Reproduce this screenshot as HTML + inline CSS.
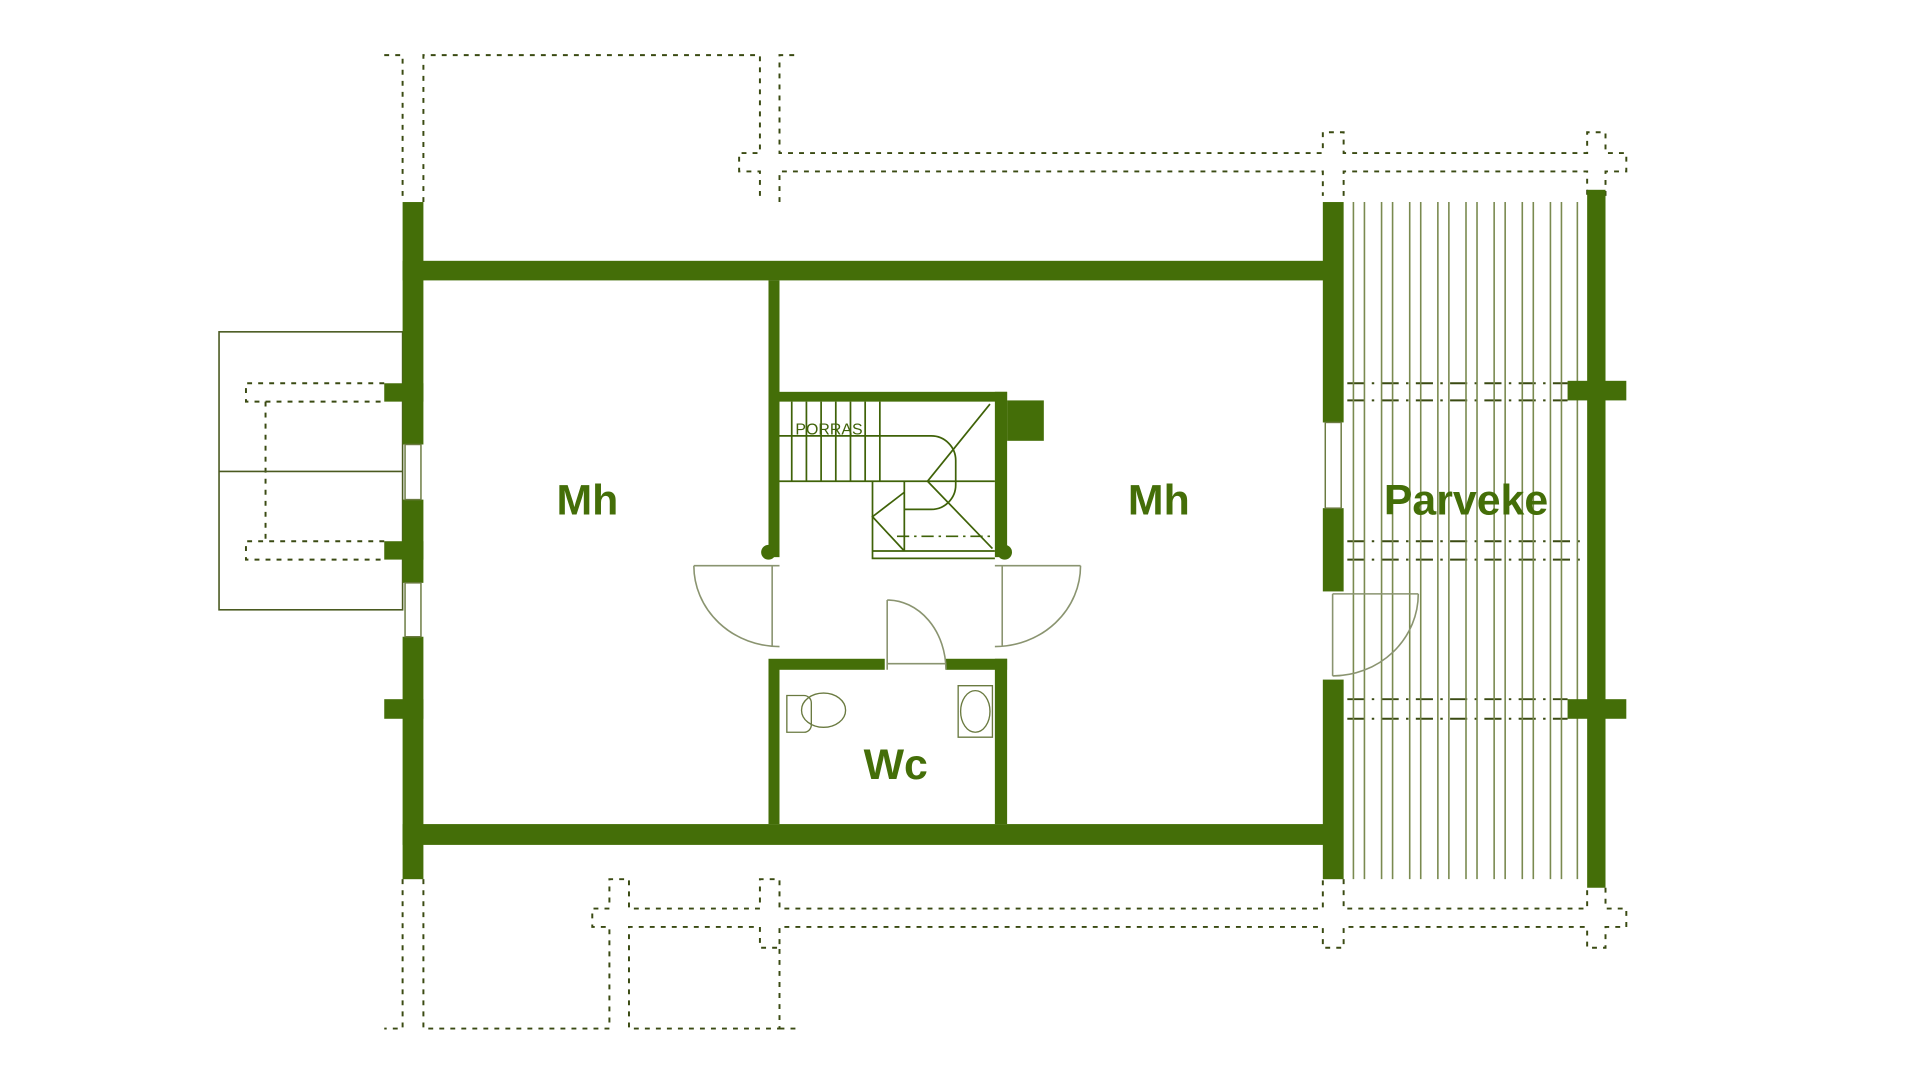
<!DOCTYPE html>
<html><head><meta charset="utf-8"><style>
html,body{margin:0;padding:0;background:#fff;width:1920px;height:1080px;overflow:hidden}
svg{display:block}
</style></head><body>
<svg width="1920" height="1080" viewBox="-1 0 1569 882" preserveAspectRatio="none" xmlns="http://www.w3.org/2000/svg">
<rect x="-10" width="1600" height="900" fill="#fff"/>
<g fill="none" stroke="#3a4a12" stroke-width="1.6" stroke-dasharray="4 5">
 <path d="M313 45 H328 V165 M345 165 V45 H620 V125 H603 V140 H620 V165 M636 165 V140 H1080 V160 M1097 160 V140 H1296 V160 M1311 160 V140 H1328 V125 H1311 V108 H1296 V125 H1097 V108 H1080 V125 H636 V45 H652"/>
 <path d="M328 718 V840 H313 M345 718 V840 H497 V757 H483 V742 H497 V718 H513 V742 H620 V718 H636 V742 H1080 V718 M1097 718 V742 H1296 V725 M1311 725 V742 H1328 V757 H1311 V774 H1296 V757 H1097 V774 H1080 V757 H636 V774 H620 V757 H513 V840 H636 V774 M636 840 H652"/>
 <path d="M313 313 H200 V328 H313 M313 442 H200 V457 H313 M216 328 V442"/>
 <path d="M1100 313 H1280 M1100 327 H1280 M1100 442 H1296 M1100 457 H1296 M1100 571 H1280 M1100 587 H1280" stroke-dasharray="14 6 2 6"/>
</g>
<g stroke="#7a8a50" stroke-width="1.3">
<path d="M1105 165V718 M1114 165V718 M1128 165V718 M1137 165V718 M1151 165V718 M1160 165V718 M1174 165V718 M1183 165V718 M1197 165V718 M1206 165V718 M1220 165V718 M1229 165V718 M1243 165V718 M1252 165V718 M1266 165V718 M1275 165V718 M1288 165V718"/>
</g>
<g fill="none" stroke="#4a5a20" stroke-width="1.3">
<rect x="178" y="271" width="150" height="227"/>
<path d="M178 385 H328"/>
</g>
<g fill="#446e08">
<rect x="328" y="165" width="17" height="198"/>
<rect x="328" y="408" width="17" height="68"/>
<rect x="328" y="520" width="17" height="198"/>
<rect x="328" y="213" width="762" height="16"/>
<rect x="328" y="673" width="762" height="17"/>
<rect x="1080" y="165" width="17" height="180"/>
<rect x="1080" y="415" width="17" height="68"/>
<rect x="1080" y="555" width="17" height="163"/>
<rect x="1296" y="155" width="15" height="570"/>
<rect x="313" y="313" width="32" height="15"/>
<rect x="313" y="442" width="32" height="15"/>
<rect x="313" y="571" width="32" height="16"/>
<rect x="1280" y="311" width="48" height="16"/>
<rect x="1280" y="571" width="48" height="16"/>
<rect x="627" y="229" width="9" height="226"/>
<rect x="627" y="538" width="9" height="135"/>
<rect x="636" y="320" width="186" height="8"/>
<rect x="812" y="320" width="10" height="135"/>
<rect x="822" y="327" width="30" height="33"/>
<rect x="636" y="538" width="86" height="9"/>
<rect x="772" y="538" width="50" height="9"/>
<rect x="812" y="538" width="10" height="135"/>
<circle cx="627" cy="451" r="6"/>
<circle cx="820" cy="451" r="6"/>
</g>
<g fill="#fff" stroke="#6a7a40" stroke-width="1.2">
<rect x="330" y="363" width="13" height="45"/>
<rect x="330" y="476" width="13" height="44"/>
<rect x="1082" y="345" width="13" height="70"/>
</g>
<g fill="none" stroke="#8a9470" stroke-width="1.3">
<path d="M566 462 H636 M566 462 A70 66 0 0 0 636 528 M630 462 V528"/>
<path d="M882 462 H812 M882 462 A70 66 0 0 1 812 528 M818 462 V528"/>
<path d="M724 490 V547 M724 490 A48 57 0 0 1 772 547 M724 542 H772"/>
<path d="M1088 485 H1158 M1158 485 A70 67 0 0 1 1088 552 M1088 485 V552"/>
</g>
<g fill="none" stroke="#3f6208" stroke-width="1.4">
<path d="M636 356 H760 A20 20 0 0 1 780 376 V396 A20 20 0 0 1 760 416 H738"/>
<path d="M636 393 H812"/>
<path d="M646 328V393 M658 328V393 M670 328V393 M682 328V393 M694 328V393 M706 328V393 M718 328V393"/>
<path d="M712 393 V456 H812 M712 450 H812 M738 393 V450"/>
<path d="M757 393 L808 330 M757 393 L810 448 M738 402 L712 422 L738 450"/>
<path d="M732 438 H812" stroke-dasharray="10 4 2 4"/>
</g>
<g fill="none" stroke="#6a7a40" stroke-width="1.1">
<path d="M642 568 H656 A6 6 0 0 1 662 574 V592 A6 6 0 0 1 656 598 H642 Z"/>
<ellipse cx="672" cy="580" rx="18" ry="14"/>
<path d="M782 560 H810 V602 H782 Z"/>
<ellipse cx="796" cy="581" rx="12" ry="17"/>
</g>
<g font-family="Liberation Sans, sans-serif" font-weight="bold" fill="#446e08" text-anchor="middle">
<text x="479" y="420" font-size="35">Mh</text>
<text x="946" y="420" font-size="35">Mh</text>
<text x="1197" y="420" font-size="35">Parveke</text>
<text x="731" y="636" font-size="35">Wc</text>
</g>
<text x="649" y="355" font-family="Liberation Sans, sans-serif" font-size="13" fill="#3f6208">PORRAS</text>
</svg>
</body></html>
